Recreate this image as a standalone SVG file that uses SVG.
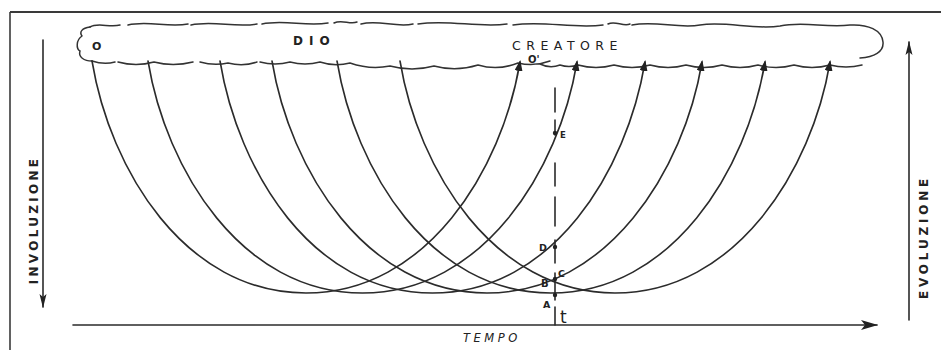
<svg xmlns="http://www.w3.org/2000/svg" width="941" height="350" viewBox="0 0 941 350">
<style>
.ln{fill:none;stroke:#2b2b2b;stroke-width:1.6;stroke-linecap:round}
.cl{fill:none;stroke:#333;stroke-width:1.5;stroke-linecap:round;stroke-linejoin:round}
.fr{fill:none;stroke:#3a3a3a}
.tx{font-family:"DejaVu Sans",sans-serif;fill:#222}
.pt{fill:#222}
</style>
<defs>
<marker id="ah" markerUnits="userSpaceOnUse" markerWidth="12" markerHeight="8" refX="9" refY="4" orient="auto">
<path d="M0,0 L11,4 L0,8 z" fill="#222"/>
</marker>
<marker id="big" markerUnits="userSpaceOnUse" markerWidth="18" markerHeight="10" refX="16" refY="5" orient="auto">
<path d="M0,0 L17,5 L0,10 L4,5 z" fill="#222"/>
</marker>
<marker id="thin" markerUnits="userSpaceOnUse" markerWidth="14" markerHeight="8" refX="13" refY="4" orient="auto">
<path d="M0,0.5 L14,4 L0,7.5 L3,4 z" fill="#222"/>
</marker>
</defs>
<rect width="941" height="350" fill="#fff"/>
<g id="frame">
<path class="fr" d="M10,350 V12" stroke-width="1.6"/>
<path class="fr" d="M10,12 H941" stroke-width="2.2"/>
</g>
<g id="cloud">
<path class="cl" d="M90,27 C82,28 79,32 82,36 C76,40 76,49 80,51 C78,57 84,61 92,61"/>
<path class="cl" d="M90,27 C98,22 110,28 120,25 M128,25 C148,20 168,28 188,24 M191,25 C213,20 235,28 257,24 M262,24 C284,19 306,27 328,23 M334,23 C342,19 350,25 357,22 M361,24 C378,19 396,28 413,24 M418,24 C448,19 478,28 507,24 M513,25 C543,20 573,29 603,25 M608,24 C615,20 623,27 630,24 M632,25 C655,20 678,29 700,25 C726,21 754,30 780,26 C803,21 826,28 850,25 C868,24 882,30 883,42 C884,52 874,57 860,58"/>
<path class="cl" d="M92,61 q12,4 23,1 M118,62 q18,5 36,0 q19,5 39,0 M200,62 q14,4 28,1 q15,4 29,-1 M260,62 q15,4 30,0 q15,4 30,0 q15,5 30,1 q20,7 40,3 q22,6 44,0 q22,6 44,-1 q20,6 40,-2 q16,4 32,-2 M540,64 q10,5 20,1 q9,3 18,0 q18,5 36,0 q18,5 36,0 q18,5 36,0 q18,5 36,0 q18,5 36,0 q18,5 36,0 q18,5 36,0 q16,4 32,0"/>
<text class="tx" x="92" y="50" font-size="11" font-weight="bold">O</text>
<text class="tx" x="293" y="45" font-size="12" font-weight="bold" letter-spacing="6">DIO</text>
<text class="tx" x="512" y="50" font-size="12.5" letter-spacing="5.5">CREATORE</text>
<text class="tx" x="528" y="63" font-size="10" font-weight="bold">O'</text>
</g>
<g id="connectors">
<path class="ln" marker-end="url(#ah)" d="M92,61 C110,170 185,293 306,293 C427,293 502,170 520,62"/>
<path class="ln" marker-end="url(#ah)" d="M148,61 C166,170 241.5,293 362.5,293 C483.5,293 559,170 577,62"/>
<path class="ln" marker-end="url(#ah)" d="M220,61 C238,170 311.5,293 432.5,293 C553.5,293 627,170 645,62"/>
<path class="ln" marker-end="url(#ah)" d="M272,61 C290,170 366,293 487,293 C608,293 684,170 702,62"/>
<path class="ln" marker-end="url(#ah)" d="M337,61 C355,170 430,293 551,293 C672,293 747,170 765,62"/>
<path class="ln" marker-end="url(#ah)" d="M400,61 C418,170 494,293 615,293 C736,293 812,170 830,62"/>
</g>
<g id="dashed-line">
<path class="ln" stroke-width="1.5" d="M555,88 V112 M555,120 V135 M555,163 V186 M555,197 V226 M555,240 V263 M555,273 V300 M555,307 V325"/>
<circle class="pt" cx="555" cy="133" r="2.2"/>
<circle class="pt" cx="555" cy="247" r="2.2"/>
<circle class="pt" cx="555" cy="279" r="2.2"/>
<circle class="pt" cx="555" cy="295" r="2.2"/>
<text class="tx" x="560" y="138" font-size="8.5" font-weight="bold">E</text>
<text class="tx" x="539" y="251" font-size="9.5" font-weight="bold">D</text>
<text class="tx" x="558" y="277" font-size="9.5" font-weight="bold">C</text>
<text class="tx" x="541" y="287" font-size="10" font-weight="bold">B</text>
<text class="tx" x="543" y="308" font-size="9.5" font-weight="bold">A</text>
<text class="tx" x="560" y="323" font-size="17">t</text>
</g>
<g id="axes">
<path class="ln" stroke-width="1.8" marker-end="url(#big)" d="M73,325 H877"/>
<text class="tx" x="463" y="342" font-size="11.5" font-style="italic" letter-spacing="3.5">TEMPO</text>
<path class="ln" stroke-width="1.6" marker-end="url(#thin)" d="M43,40 V307"/>
<text class="tx" transform="translate(38,220) rotate(-90)" text-anchor="middle" font-size="12" font-weight="bold" letter-spacing="3.3">INVOLUZIONE</text>
<path class="ln" stroke-width="1.6" marker-end="url(#thin)" d="M909,320 V42"/>
<text class="tx" transform="translate(928,237) rotate(-90)" text-anchor="middle" font-size="12" font-weight="bold" letter-spacing="3.8">EVOLUZIONE</text>
</g>
</svg>
